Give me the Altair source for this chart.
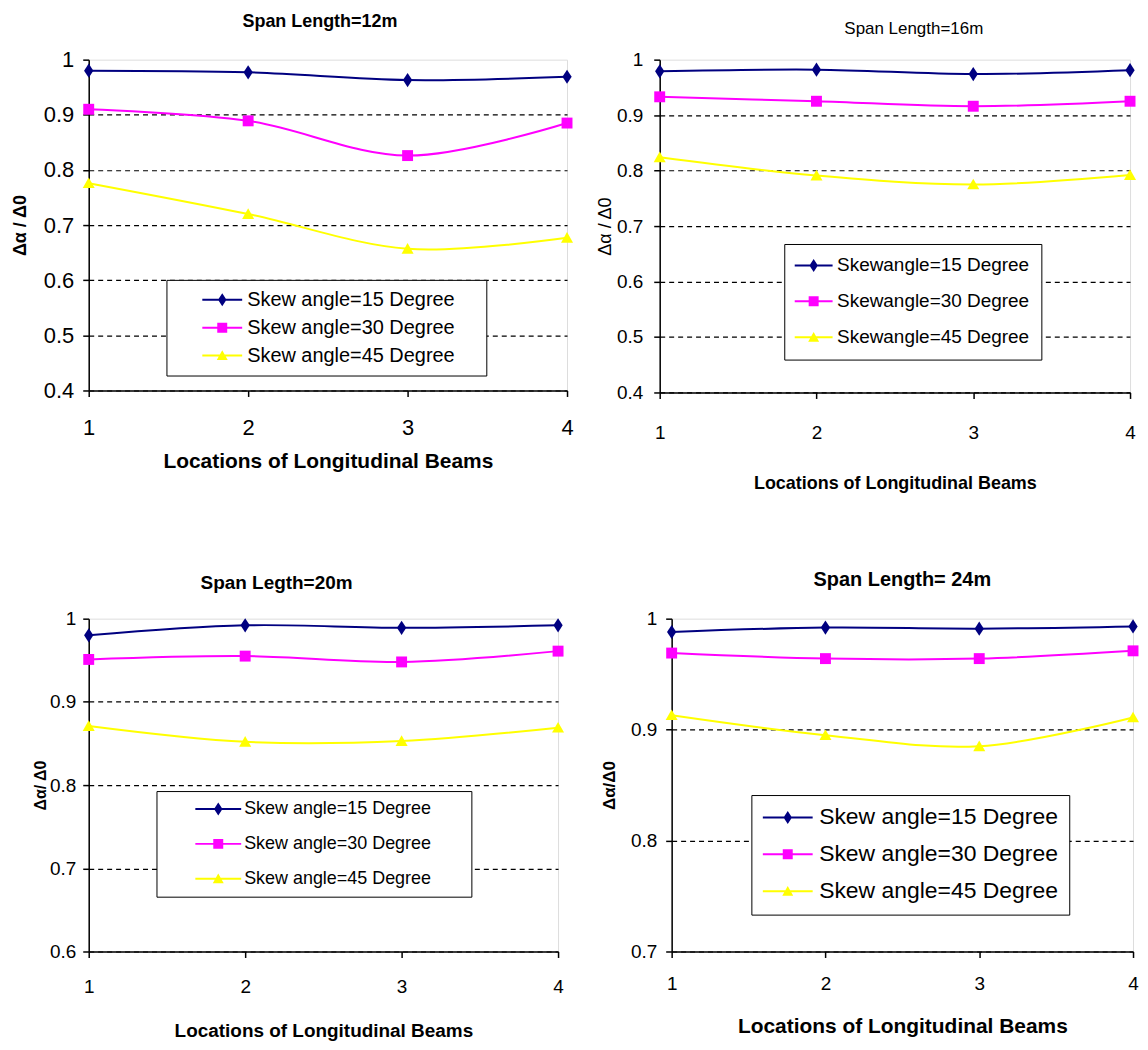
import altair as alt
import pandas as pd

# ---------------- data ----------------
locations = [1, 2, 3, 4]
angles = [15, 30, 45]

span12_a15 = [0.980, 0.977, 0.963, 0.969]
span12_a30 = [0.910, 0.889, 0.826, 0.885]
span12_a45 = [0.776, 0.720, 0.657, 0.677]

span16_a15 = [0.979, 0.982, 0.974, 0.981]
span16_a30 = [0.933, 0.925, 0.916, 0.925]
span16_a45 = [0.824, 0.791, 0.775, 0.792]

span20_a15 = [0.980, 0.992, 0.989, 0.992]
span20_a30 = [0.951, 0.955, 0.948, 0.961]
span20_a45 = [0.871, 0.852, 0.853, 0.869]

span24_a15 = [0.988, 0.992, 0.991, 0.993]
span24_a30 = [0.969, 0.964, 0.964, 0.971]
span24_a45 = [0.913, 0.895, 0.885, 0.911]

yticks_04 = [0.4, 0.5, 0.6, 0.7, 0.8, 0.9, 1.0]
yticks_06 = [0.6, 0.7, 0.8, 0.9, 1.0]
yticks_07 = [0.7, 0.8, 0.9, 1.0]

titles = ["Span Length=12m", "Span Length=16m", "Span Legth=20m", "Span Length= 24m"]
ytitles = ["Δα / Δ0", "Δα / Δ0", "Δα/ Δ0", "Δα/Δ0"]
xtitle = "Locations of Longitudinal Beams"
legend_prefix = ["Skew angle=", "Skewangle=", "Skew angle=", "Skew angle="]

# ---------------- styles ----------------
FONT = "Liberation Sans, Arial, sans-serif"
COLORS = ["#000080", "#FF00FF", "#FFFF00"]
MARKERS = ["M0,-1.3L0.85,0L0,1.3L-0.85,0Z", "M-1,-1H1V1H-1Z", "M0,-1.05L1.1,0.9H-1.1Z"]
NBSP = "\u00a0"
BLANK = "\u2800"


def make_df(series):
    rows = []
    for ang, vals in zip(angles, series):
        for loc, v in zip(locations, vals):
            rows.append({"loc": loc, "angle": ang, "ratio": v})
    return pd.DataFrame(rows)


def panel(series, ydom, yvals, idx, cfg):
    df = make_df(series)
    half = cfg["half"]
    leg_paths = [f"M{-half},-0.2H{half}V0.2H{-half}Z" + m for m in MARKERS]
    pad_sp = NBSP * cfg["nbsp"] + BLANK * cfg["blanks"]
    legend = alt.Legend(
        title=None, orient="none", legendX=cfg["lx"], legendY=cfg["ly"],
        direction="vertical", strokeColor="black", fillColor="white",
        padding=cfg["lpad"], labelFont=FONT, labelFontSize=cfg["lsize"],
        labelColor="black", labelOffset=cfg["loff"], symbolOffset=cfg["soff"],
        rowPadding=cfg["rowpad"], symbolSize=100, labelLimit=400,
        symbolStrokeWidth=0, symbolOpacity=1,
        labelExpr=f"'{legend_prefix[idx]}' + datum.label + ' Degree{pad_sp}'",
    )
    x = alt.X("loc:Q", scale=alt.Scale(domain=[1, 4], nice=False, zero=False),
              axis=alt.Axis(values=locations, format="d", grid=False,
                            domainColor="black", domainWidth=1.5,
                            tickColor="black", tickSize=6, tickWidth=1.5,
                            labelFont=FONT, labelFontSize=cfg["tsize"], labelColor="black",
                            labelPadding=cfg["xlp"], labelBaseline="middle",
                            labelFlush=False, labelOverlap=False,
                            title=xtitle, titleFont=FONT, titleFontSize=cfg["xtsize"],
                            titleFontWeight="bold", titleColor="black",
                            titleX=cfg["w"] / 2, titleY=cfg["xty"],
                            titleAlign="center", titleBaseline="middle"))
    y = alt.Y("ratio:Q", scale=alt.Scale(domain=ydom, nice=False, zero=False),
              axis=alt.Axis(values=yvals, format="~g", grid=True, gridColor="black",
                            gridDash=[5, 4], gridWidth=1.2,
                            gridOpacity={"condition": {"test": "datum.value >= 0.999", "value": 0}, "value": 1},
                            domainColor="black", domainWidth=1.5,
                            tickColor="black", tickSize=6, tickWidth=1.5,
                            labelFont=FONT, labelFontSize=cfg["tsize"], labelColor="black",
                            labelPadding=cfg["ylp"], labelFlush=False, labelOverlap=False,
                            title=ytitles[idx], titleFont=FONT, titleFontSize=cfg["ytsize"],
                            titleFontWeight=cfg["ytweight"], titleColor="black",
                            titleX=cfg["ytx"], titleY=cfg["h"] / 2, titleAngle=270,
                            titleAlign="center", titleBaseline="middle"))
    base = alt.Chart(df)
    layers = []
    for ang, col in zip(angles, COLORS):
        layers.append(base.transform_filter(alt.datum.angle == ang).mark_line(
            interpolate="cardinal", strokeWidth=2, color=col).encode(x=x, y=y))
    for ang, col, m in zip(angles, COLORS, MARKERS):
        layers.append(base.transform_filter(alt.datum.angle == ang).mark_point(
            filled=True, opacity=1, size=cfg["msize"], strokeWidth=0, shape=m, color=col).encode(
            x=x, y=y))
    # legend carrier (no rows drawn; entries come from the fixed scale domains)
    layers.append(base.transform_filter("datum.loc < 0").mark_point(
        filled=True, opacity=1, size=100, strokeWidth=0).encode(
        x=x, y=y,
        color=alt.Color("angle:N", scale=alt.Scale(domain=angles, range=COLORS), legend=legend),
        shape=alt.Shape("angle:N", scale=alt.Scale(domain=angles, range=leg_paths), legend=legend)))
    return alt.layer(*layers).properties(
        width=cfg["w"], height=cfg["h"],
        title=alt.TitleParams(titles[idx], font=FONT, fontSize=cfg["tfsize"],
                              fontWeight=cfg["tweight"], color="black", offset=0,
                              dy=cfg["tdy"], dx=cfg["tdx"], baseline="middle", anchor="middle"))


cfg1 = dict(w=480, h=332, tfsize=18, tweight="bold", tdy=-9, tdx=-8,
            tsize=22, ylp=9, xlp=31, ytsize=18, ytweight="bold", ytx=-68,
            xtsize=21, xty=71, lsize=20, lpad=10, loff=15,
            soff=36, rowpad=8, half=4, lx=78, ly=221, nbsp=1, blanks=1, msize=120)
cfg2 = dict(w=472, h=334, tfsize=17, tweight="normal", tdy=-5, tdx=19,
            tsize=19, ylp=11, xlp=34, ytsize=18, ytweight="normal", ytx=-54,
            xtsize=18, xty=91, lsize=19, lpad=12, loff=14,
            soff=8, rowpad=16, half=3.8, lx=125, ly=185, nbsp=0, blanks=0, msize=120)
cfg3 = dict(w=471, h=334, tfsize=19, tweight="bold", tdy=-8, tdx=-47,
            tsize=19, ylp=7, xlp=29, ytsize=16, ytweight="bold", ytx=-48,
            xtsize=19, xty=79, lsize=18, lpad=9, loff=17,
            soff=44, rowpad=17, half=4.6, lx=68, ly=173, nbsp=1, blanks=2, msize=120)
cfg4 = dict(w=463, h=334, tfsize=20, tweight="bold", tdy=-10, tdx=0,
            tsize=19, ylp=9, xlp=26, ytsize=17, ytweight="bold", ytx=-62,
            xtsize=21, xty=75, lsize=23, lpad=11, loff=20,
            soff=14, rowpad=13, half=5, lx=80, ly=177, nbsp=0, blanks=0, msize=120)

p1 = panel([span12_a15, span12_a30, span12_a45], [0.4, 1.0], yticks_04, 0, cfg1)
p2 = panel([span16_a15, span16_a30, span16_a45], [0.4, 1.0], yticks_04, 1, cfg2)
p3 = panel([span20_a15, span20_a30, span20_a45], [0.6, 1.0], yticks_06, 2, cfg3)
p4 = panel([span24_a15, span24_a30, span24_a45], [0.7, 1.0], yticks_07, 3, cfg4)

ind = dict(color="independent", shape="independent")
row1 = alt.hconcat(p1, p2, spacing=22).resolve_scale(**ind).resolve_legend(**ind)
row2 = alt.hconcat(p3, p4, spacing=35).resolve_scale(**ind).resolve_legend(**ind)

chart = (alt.vconcat(row1, row2, spacing=76)
         .resolve_scale(**ind).resolve_legend(**ind)
         .properties(padding={"left": 3, "top": 2, "right": 0, "bottom": 0})
         .configure_view(stroke="#808080", strokeWidth=1.5)
         .configure(background="white"))

chart.save("out.html", embed_options={"renderer": "svg", "actions": False})
